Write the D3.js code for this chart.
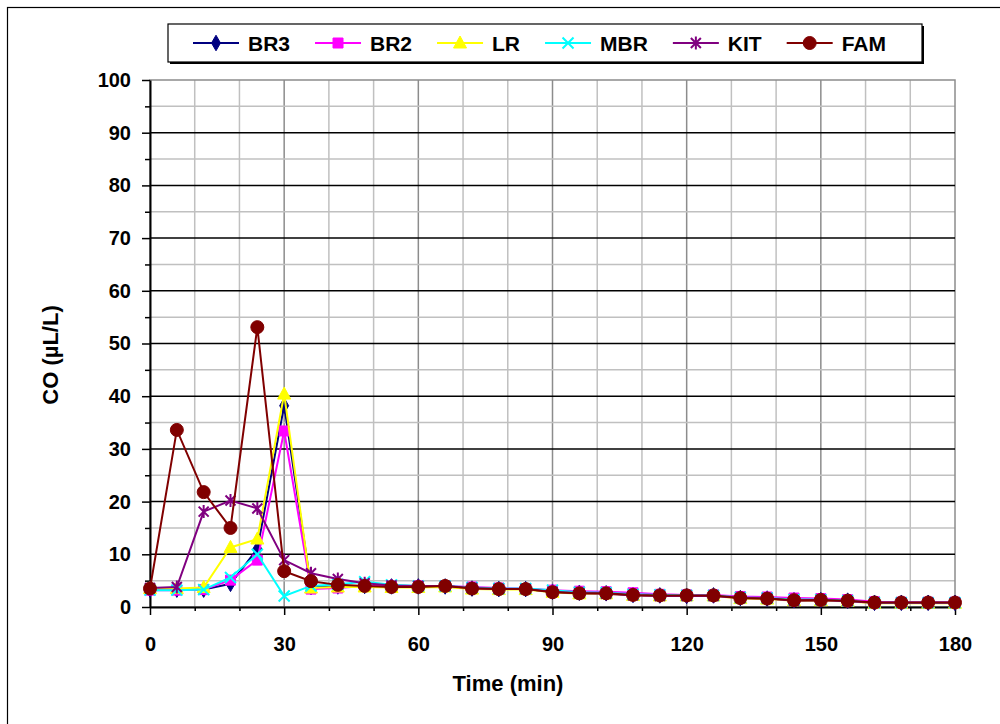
<!DOCTYPE html>
<html><head><meta charset="utf-8">
<script src="https://cdn.jsdelivr.net/npm/d3@7"></script>
<style>
body{margin:0;background:#fff}
text{font-family:Arial,"Liberation Sans",sans-serif;font-weight:bold;fill:#000}
</style>
</head><body><svg id="c" width="1000" height="724"></svg>
<script>
// ---- data ----
const times = [0,6,12,18,24,30,36,42,48,54,60,66,72,78,84,90,96,102,108,114,120,126,132,138,144,150,156,162,168,174,180];
const seriesNames = ["BR3","BR2","LR","MBR","KIT","FAM"];
const BR3 = [3.3,3.3,3.3,4.4,11.0,38.2,3.8,3.9,4.0,3.9,3.9,3.9,3.5,3.4,3.4,2.9,2.7,2.6,2.3,2.2,2.1,2.2,1.7,1.6,1.3,1.3,1.2,0.8,0.8,0.8,0.8];
const BR2 = [3.2,3.2,3.3,5.1,8.9,33.4,3.4,3.6,4.0,4.0,4.0,4.0,3.8,3.6,3.5,3.2,3.0,2.9,2.7,2.4,2.3,2.3,2.0,1.9,1.7,1.6,1.4,1.0,0.9,0.9,0.9];
const LR  = [3.5,3.5,3.7,11.3,12.9,40.4,3.6,3.8,3.8,3.7,3.7,3.8,3.4,3.3,3.3,2.8,2.5,2.5,2.2,2.1,2.1,2.1,1.6,1.5,1.2,1.2,1.1,0.7,0.7,0.7,0.7];
const MBR = [3.2,3.2,3.3,5.6,10.0,2.1,4.0,4.3,4.8,4.2,4.0,4.0,3.7,3.5,3.5,3.2,2.8,2.7,2.4,2.3,2.2,2.2,1.8,1.7,1.4,1.4,1.2,0.8,0.8,0.8,0.8];
const KIT = [3.6,3.8,18.1,20.2,18.7,8.9,6.4,5.3,4.5,4.1,4.0,4.0,3.6,3.4,3.4,2.9,2.6,2.5,2.2,2.1,2.1,2.1,1.7,1.6,1.2,1.3,1.1,0.8,0.8,0.8,0.8];
const FAM = [3.5,33.6,21.8,15.0,53.1,6.8,4.9,4.2,4.0,3.8,3.8,4.0,3.5,3.4,3.4,2.8,2.6,2.6,2.3,2.2,2.2,2.2,1.7,1.6,1.3,1.35,1.2,0.85,0.85,0.85,0.85];
const xTicks = [0,30,60,90,120,150,180];
const yTicks = [0,10,20,30,40,50,60,70,80,90,100];
const xTitle = "Time (min)";
const yTitle = "CO (\u00B5L/L)";

// ---- styles ----
const seriesValues = {BR3, BR2, LR, MBR, KIT, FAM};
const colors = {BR3:"#000080", BR2:"#FF00FF", LR:"#FFFF00", MBR:"#00FFFF", KIT:"#800080", FAM:"#800000"};
const markers = {BR3:"diamond", BR2:"square", LR:"triangle", MBR:"x", KIT:"star", FAM:"circle"};

const svg = d3.select("#c");
svg.append("rect").attr("width",1000).attr("height",724).attr("fill","#fff");
// outer chart border
svg.append("rect").attr("x",7.5).attr("y",7.5).attr("width",1100).attr("height",900)
  .attr("fill","none").attr("stroke","#000").attr("stroke-width",1.2);

const L=150, R=955, T=80, B=607;
const x = d3.scaleLinear().domain([0,180]).range([L,R]);
const y = d3.scaleLinear().domain([0,100]).range([B,T]);

const grid = svg.append("g");
d3.range(10,180,10).forEach(v=>{
  grid.append("line").attr("x1",x(v)).attr("x2",x(v)).attr("y1",T).attr("y2",B)
    .attr("stroke", v%30===0 ? "#8c8c8c" : "#c0c0c0").attr("stroke-width",1.5);
});
d3.range(5,100,10).forEach(v=>{
  grid.append("line").attr("x1",L).attr("x2",R).attr("y1",y(v)).attr("y2",y(v))
    .attr("stroke","#c0c0c0").attr("stroke-width",1.5);
});
grid.append("rect").attr("x",L).attr("y",T).attr("width",R-L).attr("height",B-T)
  .attr("fill","none").attr("stroke","#8c8c8c").attr("stroke-width",1.5);
yTicks.filter(v=>v>0 && v<100).forEach(v=>{
  grid.append("line").attr("x1",L).attr("x2",R).attr("y1",y(v)).attr("y2",y(v))
    .attr("stroke","#000").attr("stroke-width",1.5);
});

// axes
const yAxis = d3.axisLeft(y).tickValues(yTicks).tickSize(8).tickSizeOuter(0).tickPadding(11);
svg.append("g").attr("transform",`translate(${L},0)`).call(yAxis);
const yMinor = d3.axisLeft(y).tickValues(d3.range(5,100,10)).tickSize(5).tickSizeOuter(0).tickFormat("");
svg.append("g").attr("transform",`translate(${L},0)`).call(yMinor).select(".domain").remove();
const xAxis = d3.axisBottom(x).tickValues(xTicks).tickSize(8).tickSizeOuter(0).tickPadding(22);
svg.append("g").attr("transform",`translate(0,${B})`).call(xAxis);
const xMinor = d3.axisBottom(x).tickValues(d3.range(10,180,10).filter(v=>v%30!==0)).tickSize(4).tickSizeOuter(0).tickFormat("");
svg.append("g").attr("transform",`translate(0,${B})`).call(xMinor).select(".domain").remove();
svg.selectAll(".domain").attr("stroke","#000").attr("stroke-width",2);
svg.selectAll(".tick line").attr("stroke","#000").attr("stroke-width",1.5);
svg.selectAll(".tick text").attr("font-size",20).attr("font-family","Arial, 'Liberation Sans', sans-serif").attr("font-weight","bold").attr("fill","#000");

// axis titles
svg.append("text").attr("x",508).attr("y",691).attr("text-anchor","middle").attr("font-size",22).text(xTitle);
svg.append("text").attr("transform","translate(58,355) rotate(-90)").attr("text-anchor","middle").attr("font-size",22).text(yTitle);

function drawMarker(g, type, color){
  if(type==="circle"){
    g.append("circle").attr("r",6.5).attr("fill",color).attr("stroke",color);
  } else if(type==="diamond"){
    g.append("path").attr("d",d3.symbol(d3.symbolDiamond, 70)()).attr("fill",color).attr("stroke",color);
  } else if(type==="square"){
    g.append("path").attr("d",d3.symbol(d3.symbolSquare, 100)()).attr("fill",color).attr("stroke",color);
  } else if(type==="triangle"){
    g.append("path").attr("d","M0,-7L6.5,5L-6.5,5Z").attr("fill",color).attr("stroke",color);
  } else if(type==="x"){
    g.append("path").attr("d","M-5.5,-5.5L5.5,5.5M-5.5,5.5L5.5,-5.5").attr("stroke",color).attr("stroke-width",2).attr("fill","none");
  } else if(type==="star"){
    g.append("path").attr("d","M-5,-5L5,5M-5,5L5,-5M0,-6.5L0,6.5").attr("stroke",color).attr("stroke-width",2).attr("fill","none");
  }
}

// series
const line = d3.line().x((d,i)=>x(times[i])).y(d=>y(d));
seriesNames.forEach(name=>{
  const vals = seriesValues[name];
  const c = colors[name];
  const g = svg.append("g");
  g.append("path").datum(vals).attr("d",line).attr("fill","none").attr("stroke",c).attr("stroke-width",2);
  vals.forEach((v,i)=>{
    const m = g.append("g").attr("transform",`translate(${x(times[i])},${y(v)})`);
    drawMarker(m, markers[name], c);
  });
});

// legend
const lg = svg.append("g");
const lgX=168, lgY=24, lgW=754, lgH=38;
lg.append("rect").attr("x",lgX+2).attr("y",lgY+2).attr("width",lgW).attr("height",lgH).attr("fill","#000");
lg.append("rect").attr("x",lgX).attr("y",lgY).attr("width",lgW).attr("height",lgH).attr("fill","#fff").attr("stroke","#000").attr("stroke-width",1.2);
let cx = 193;
seriesNames.forEach(name=>{
  const c = colors[name];
  const cy = lgY + lgH/2;
  lg.append("line").attr("x1",cx).attr("x2",cx+46).attr("y1",cy).attr("y2",cy).attr("stroke",c).attr("stroke-width",2);
  const m = lg.append("g").attr("transform",`translate(${cx+23},${cy})`);
  drawMarker(m, markers[name], c);
  const t = lg.append("text").attr("x",cx+55).attr("y",cy+7.5).attr("font-size",21).text(name);
  cx = cx + 55 + t.node().getComputedTextLength() + 25;
});
</script>
</body></html>
